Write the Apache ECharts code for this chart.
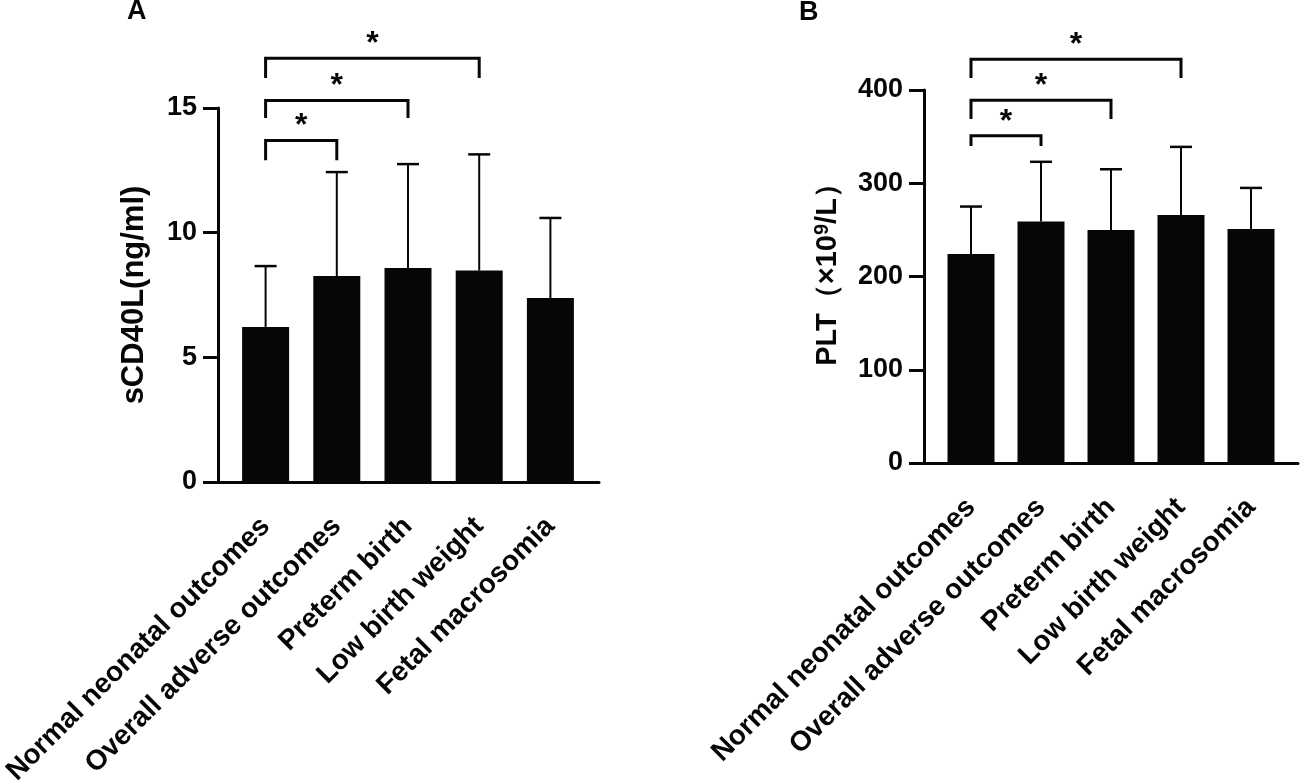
<!DOCTYPE html>
<html>
<head>
<meta charset="utf-8">
<script src="https://cdn.jsdelivr.net/npm/echarts@6/dist/echarts.min.js"></script>
<style>
  html, body { margin: 0; padding: 0; background: #fff; }
  #chart { width: 1300px; height: 783px; }
</style>
</head>
<body>
<div id="chart"></div>
<script>
'use strict';

// groups on the x axis (same for both panels)
const categories = ['Normal neonatal outcomes', 'Overall adverse outcomes', 'Preterm birth', 'Low birth weight', 'Fetal macrosomia'];

// panel A: sCD40L, mean and SD (upper whisker only)
const sCD40LMean = [6.22, 8.26, 8.58, 8.48, 7.38];
const sCD40LSd = [2.44, 4.17, 4.17, 4.66, 3.21];
const sCD40LTicks = [0, 15, 5];   // min, max, interval

// panel B: PLT, mean and SD
const pltMean = [224, 259, 250, 266, 251];
const pltSd = [51, 64, 65, 73, 44];
const pltTicks = [0, 400, 100];

// significance brackets: [from group, to group, bar level, leg end]
const sCD40LBrackets = [[0, 1, 13.7, 12.9], [0, 2, 15.3, 14.6], [0, 3, 17.0, 16.2]];
const pltBrackets = [[0, 1, 351, 340], [0, 2, 389, 369], [0, 3, 433, 413]];
const bracketMark = '*';

const FONT = '"Liberation Sans", Arial, Helvetica, sans-serif';
const INK = '#050707';

var chart = echarts.init(document.getElementById('chart'));

function renderErr(params, api) {
  var i = api.value(0);
  var base = api.coord([i, api.value(1)]);
  var top = api.coord([i, api.value(2)]);
  var half = 11;
  return {
    type: 'group',
    children: [
      { type: 'line', shape: { x1: base[0], y1: base[1], x2: top[0], y2: top[1] }, style: { stroke: INK, lineWidth: 2 } },
      { type: 'line', shape: { x1: top[0] - half, y1: top[1], x2: top[0] + half, y2: top[1] }, style: { stroke: INK, lineWidth: 2.5 } }
    ]
  };
}

function renderBracket(params, api) {
  var a = api.coord([api.value(0), api.value(2)]);
  var b = api.coord([api.value(1), api.value(2)]);
  var leg = api.coord([api.value(0), api.value(3)]);
  return {
    type: 'group',
    children: [
      {
        type: 'polyline',
        shape: { points: [[a[0], leg[1]], a, b, [b[0], leg[1]]] },
        style: { stroke: INK, lineWidth: 3, fill: null }
      },
      {
        type: 'text',
        x: (a[0] + b[0]) / 2,
        y: a[1] - 14,
        style: { text: bracketMark, font: 'bold 32px ' + FONT, fill: INK, align: 'center', verticalAlign: 'middle' }
      }
    ]
  };
}

function frameX(grid) {
  return {
    gridIndex: grid, type: 'value', min: 0, max: 1,
    axisLine: { lineStyle: { color: INK, width: 3 } },
    axisTick: { show: false }, axisLabel: { show: false }, splitLine: { show: false }
  };
}

function frameY(grid, ticks, name, gap, size, pad) {
  return {
    gridIndex: grid, type: 'value', min: ticks[0], max: ticks[1], interval: ticks[2],
    name: name, nameLocation: 'middle', nameGap: gap,
    nameTextStyle: {
      fontFamily: FONT, fontWeight: 'bold', fontSize: size, color: INK, padding: pad,
      rich: { sup: { fontFamily: FONT, fontWeight: 'bold', fontSize: 20, color: INK, verticalAlign: 'top', padding: [0, 0, 12, 0] } }
    },
    axisLine: { show: true, lineStyle: { color: INK, width: 3 } },
    axisTick: { show: true, length: 15, lineStyle: { color: INK, width: 3 } },
    axisLabel: { fontFamily: FONT, fontWeight: 'bold', fontSize: 27, color: INK, margin: 21 },
    splitLine: { show: false }
  };
}

function barX(grid) {
  return {
    gridIndex: grid, type: 'category', data: categories,
    axisLine: { show: false }, axisTick: { show: false },
    axisLabel: { interval: 0, rotate: 45, margin: 40, fontFamily: FONT, fontWeight: 'bold', fontSize: 28, color: INK }
  };
}

function barY(grid, ticks) {
  return { gridIndex: grid, type: 'value', min: ticks[0], max: ticks[1], interval: ticks[2], show: false };
}

function panelSeries(axis, mean, sd, brackets) {
  return [
    {
      type: 'bar', xAxisIndex: axis, yAxisIndex: axis, data: mean, barWidth: 47,
      itemStyle: { color: INK }, silent: true
    },
    {
      type: 'custom', xAxisIndex: axis, yAxisIndex: axis, renderItem: renderErr, silent: true,
      encode: { x: 0, y: [1, 2] },
      data: mean.map(function (m, i) { return [i, m, m + sd[i]]; })
    },
    {
      type: 'custom', xAxisIndex: axis, yAxisIndex: axis, renderItem: renderBracket, silent: true,
      encode: { x: [0, 1], y: [2, 3] },
      data: brackets
    }
  ];
}

function grid(left, top, width, height) {
  return { left: left, top: top, width: width, height: height, containLabel: false, outerBoundsMode: 'none' };
}

const option = {
  animation: false,
  backgroundColor: '#fff',
  title: [
    { text: 'A', left: 122, top: -7, textStyle: { fontFamily: FONT, fontWeight: 'bold', fontSize: 27, color: INK } },
    { text: 'B', left: 794, top: -6, textStyle: { fontFamily: FONT, fontWeight: 'bold', fontSize: 27, color: INK } }
  ],
  grid: [
    grid(218, 108, 381, 374),   // A frame
    grid(230, 108, 356, 374),   // A bars
    grid(924, 90, 374, 373),    // B frame
    grid(936, 90, 350, 373)     // B bars
  ],
  xAxis: [frameX(0), barX(1), frameX(2), barX(3)],
  yAxis: [
    frameY(0, sCD40LTicks, 'sCD40L(ng/ml)', 68, 31, 0),
    barY(1, sCD40LTicks),
    frameY(2, pltTicks, 'PLT（×10{sup|9}/L）', 80, 29, [0, 0, 0, 18]),
    barY(3, pltTicks)
  ],
  series: [].concat(
    panelSeries(1, sCD40LMean, sCD40LSd, sCD40LBrackets),
    panelSeries(3, pltMean, pltSd, pltBrackets)
  )
};

chart.setOption(option);
</script>
</body>
</html>
